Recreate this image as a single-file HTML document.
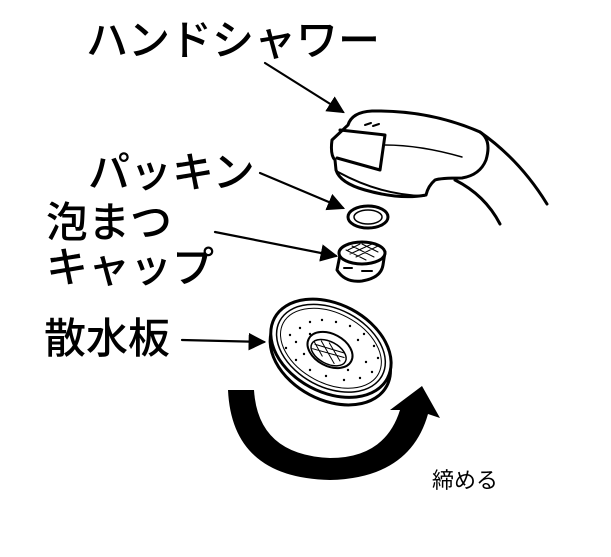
<!DOCTYPE html>
<html><head><meta charset="utf-8"><style>
body{margin:0;background:#fff;width:611px;height:557px;overflow:hidden;position:relative}
.t{position:absolute;font-family:"Liberation Sans","Noto Sans CJK JP",sans-serif;font-size:42px;line-height:1;color:#000;white-space:nowrap;font-weight:500}
</style></head><body>
<svg width="611" height="557" style="position:absolute;left:0;top:0" fill="none" stroke="#000" stroke-width="3" stroke-linejoin="round" stroke-linecap="round">
<defs><marker id="a" markerWidth="8" markerHeight="8" refX="7" refY="4" orient="auto" markerUnits="strokeWidth"><path d="M0,0 L8,4 L0,8 z" fill="#000" stroke="none"/></marker></defs>
<g stroke-width="2.2">
<line x1="265" y1="63" x2="343" y2="112" marker-end="url(#a)"/>
<line x1="260" y1="173" x2="343" y2="208" marker-end="url(#a)"/>
<line x1="215" y1="232" x2="336" y2="256" marker-end="url(#a)"/>
<line x1="182" y1="340" x2="264" y2="342" marker-end="url(#a)"/>
</g>
<!-- shower head -->
<path d="M348,125 Q352,112 372,111 Q430,110 480,132 Q492,140 486,160 Q480,175 462,178 Q440,178 435,180 Q428,186 426,195 Q400,200 365,190 Q340,183 336,170 L335,160 Q330,155 332,140 Z" fill="#fff"/>
<path d="M340,130 L385,135 L380,170 L337,158"/>
<path d="M385,145 Q420,145 462,157" stroke-width="1.5"/>
<path d="M338,172 Q380,195 424,196" stroke-width="2"/>
<path d="M480,132 Q520,160 547,204"/>
<path d="M455,180 Q485,195 500,224"/>
<path d="M365,125 l6,-2 M373,126 l6,-2" stroke-width="2"/>
<!-- packing -->
<ellipse cx="368" cy="217" rx="20" ry="11"/>
<ellipse cx="368" cy="217" rx="14" ry="7" stroke-width="1.5"/>
<!-- foam cap -->
<path d="M340,255 L337,270 Q345,283 362,281 Q381,278 383,265 L385,252"/>
<ellipse cx="362" cy="253" rx="23" ry="11" fill="#fff"/>
<path d="M346,250 l20,10 M352,246 l22,11 M362,244 l16,8 M378,246 l-22,11 M372,244 l-22,10 M360,244 l-12,6" stroke-width="1"/>
<path d="M344,268 h8 M362,271 h10" stroke-width="2"/>
<!-- diffuser -->
<g transform="rotate(28 330 350)">
<ellipse cx="333" cy="355" rx="64" ry="44" fill="#fff" stroke-width="3"/>
<ellipse cx="330" cy="348" rx="64" ry="44" fill="#fff" stroke-width="3"/>
<ellipse cx="330" cy="348" rx="58" ry="39" stroke-width="1.5"/>
<ellipse cx="330" cy="348" rx="54" ry="35" stroke-width="1"/>
<ellipse cx="330" cy="350" rx="24" ry="16" stroke-width="2"/>
<ellipse cx="330" cy="353" rx="19" ry="11" stroke-width="1.5"/>
<path d="M314,352 l30,-6 M314,357 l32,-7 M318,346 l22,14 M326,344 l18,11 M312,350 l14,9" stroke-width="1"/>
</g>
<g fill="#000" stroke="none">
<circle cx="290" cy="335" r="1.2"/><circle cx="300" cy="328" r="1.2"/><circle cx="310" cy="322" r="1.2"/><circle cx="322" cy="320" r="1.2"/><circle cx="336" cy="322" r="1.2"/><circle cx="350" cy="326" r="1.2"/><circle cx="364" cy="334" r="1.2"/><circle cx="374" cy="346" r="1.2"/><circle cx="378" cy="358" r="1.2"/><circle cx="372" cy="372" r="1.2"/><circle cx="360" cy="378" r="1.2"/><circle cx="344" cy="380" r="1.2"/><circle cx="326" cy="376" r="1.2"/><circle cx="310" cy="370" r="1.2"/><circle cx="296" cy="360" r="1.2"/><circle cx="286" cy="348" r="1.2"/><circle cx="296" cy="342" r="1.2"/><circle cx="366" cy="362" r="1.2"/><circle cx="358" cy="340" r="1.2"/><circle cx="304" cy="354" r="1.2"/><circle cx="310" cy="334" r="1.2"/><circle cx="348" cy="370" r="1.2"/>
</g>
<!-- big arrow -->
<path d="M228,390 L254,390 Q258,455 330,458 Q385,458 400,410 L390,410 L422,386 L440,418 L428,414 Q410,478 330,480 Q232,478 228,390 Z" fill="#000" stroke="none"/>
</svg>
<div class="t" style="left:86px;top:20px">ハンドシャワー</div>
<div class="t" style="left:88px;top:152px">パッキン</div>
<div class="t" style="left:46px;top:202px">泡まつ</div>
<div class="t" style="left:46px;top:247px">キャップ</div>
<div class="t" style="left:44px;top:318px">散水板</div>
<div class="t" style="left:432px;top:470px;font-size:22px;font-weight:400">締める</div>
</body></html>
